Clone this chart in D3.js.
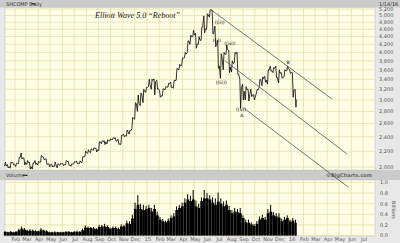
<!DOCTYPE html>
<html><head><meta charset="utf-8">
<script src="https://cdn.jsdelivr.net/npm/d3@7"></script>
<style>html,body{margin:0;padding:0;background:#e8e8e8;overflow:hidden}svg{display:block}</style>
</head><body><svg id="c" width="400" height="243"></svg>
<script>
// ---------- DATA ----------
const firstWeek = "2014-01-10", lastWeek = "2016-01-15", lastTradeDay = "2016-01-14";
const priceClose = [2013,2004,2054,2033,2044,2116,2113,2056,2057,2004,2047,2046,2058,2130,2098,2036,2027,2011,2026,2034,2039,2030,2070,2025,2036,2059,2047,2059,2127,2186,2194,2226,2240,2217,2327,2331,2329,2347,2363,2374,2341,2302,2420,2418,2478,2487,2683,2938,2938,3108,3158,
3235,3286,3376,3351,3210,3076,3204,3246,3311,3242,3373,3617,3691,3864,3958,4287,4394,4442,4205,4308,4657,4611,5023,5166,4478,4193,3687,3878,3958,4070,3664,3744,3965,3508,3232,3160,3200,3097,3092,3053,3183,3391,3412,3383,3590,3580,3630,3436,3525,3435,3578,3627,3539,3186,3007];
const priceHigh = [2060,2030,2060,2055,2045,2120,2177,2110,2080,2055,2050,2080,2070,2146,2125,2100,2040,2035,2060,2040,2045,2045,2080,2070,2040,2065,2075,2075,2130,2200,2220,2230,2248,2240,2330,2345,2345,2360,2370,2390,2390,2365,2423,2440,2500,2500,2700,2950,3090,3130,3200,
3240,3400,3400,3406,3380,3175,3210,3250,3320,3340,3380,3630,3720,3870,4000,4290,4440,4572,4490,4400,4660,4986,5051,5178,5160,4690,4300,3970,4000,4185,4050,3800,4000,4006,3400,3300,3250,3200,3200,3100,3200,3400,3450,3460,3600,3680,3650,3680,3600,3540,3600,3684,3600,3540,3200];
const priceLow = [2010,1990,1985,2025,2005,2040,2100,2025,2030,1975,1975,2030,2025,2060,2090,2030,2000,2000,2005,1990,2020,2015,2025,2020,2010,2040,2040,2040,2055,2130,2170,2180,2210,2190,2210,2300,2290,2300,2340,2360,2335,2290,2290,2400,2410,2440,2520,2670,2800,2900,2950,
3140,3250,3200,3095,3200,3050,3070,3190,3240,3230,3220,3380,3600,3700,3870,3990,4200,4400,4100,4200,4300,4500,4600,4950,4470,4140,3630,3420,3600,3950,3540,3550,3750,3500,2850,3000,3000,2980,3060,3000,3130,3240,3270,3340,3300,3570,3540,3430,3330,3420,3450,3580,3520,3050,2870];
const volAvg = [.07,.06,.07,.06,.07,.10,.13,.11,.09,.09,.09,.08,.08,.11,.09,.08,.06,.06,.06,.06,.06,.06,.07,.07,.06,.07,.07,.07,.10,.15,.14,.14,.13,.12,.16,.17,.17,.16,.13,.14,.14,.12,.17,.17,.23,.22,.32,.50,.58,.50,.48,
.50,.52,.45,.50,.38,.30,.27,.25,.28,.33,.36,.48,.52,.55,.62,.68,.65,.68,.55,.52,.65,.70,.70,.68,.62,.58,.64,.60,.55,.58,.48,.42,.45,.44,.42,.33,.25,.24,.21,.18,.22,.30,.33,.30,.42,.45,.38,.36,.34,.27,.30,.33,.26,.28,.24];
const volPeak = [.08,.07,.08,.07,.08,.13,.17,.14,.11,.12,.11,.10,.09,.14,.11,.10,.07,.07,.08,.07,.07,.07,.08,.08,.07,.08,.09,.08,.13,.19,.17,.16,.16,.14,.20,.20,.22,.19,.15,.17,.17,.15,.21,.20,.28,.27,.39,.62,.76,.60,.58,
.56,.58,.52,.58,.45,.35,.31,.28,.32,.38,.42,.55,.58,.62,.70,.78,.75,.86,.66,.60,.72,.86,.80,.76,.72,.70,.81,.70,.64,.66,.56,.48,.52,.50,.52,.38,.30,.30,.25,.22,.27,.36,.39,.35,.50,.58,.44,.42,.42,.32,.35,.38,.30,.33,.30];
const priceTicks = [2000,2200,2400,2600,2800,3000,3200,3400,3600,3800,4000,4200,4400,4600,4800,5000,5200];
const volTicks = [0,0.2,0.4,0.6,0.8,1.0];
const monthLabels = ["Feb","Mar","Apr","May","Jun","Jul","Aug","Sep","Oct","Nov","Dec","15","Feb","Mar","Apr","May","Jun","Jul","Aug","Sep","Oct","Nov","Dec","16","Feb","Mar","Apr","May","Jun","Jul"];
const trendLines = [
  [["2015-06-12",5178],["2016-04-13",3018]],
  [["2015-07-18",3800],["2016-05-21",2164]],
  [["2015-09-03",2857],["2016-05-24",1772]]
];
const waveLabels = [
  {d:"2015-06-27",v:4312,t:"((i))"},
  {d:"2015-07-04",v:4807,t:"((ii))"},
  {d:"2015-07-08",v:3344,t:"((iii))"},
  {d:"2015-07-30",v:4235,t:"((iv))"},
  {d:"2015-08-27",v:2830,t:"((v))"},
  {d:"2015-08-29",v:2740,t:"A"},
  {d:"2015-12-24",v:3773,t:"B"}
];

// ---------- LAYOUT ----------
const P = {l:5, r:375, top:7.5, bot:170, vTop:180, vBot:236};
const svg = d3.select("#c");
const parse = d3.timeParse("%Y-%m-%d");
const x = d3.scaleTime().domain([new Date(2014,0,7), new Date(2016,6,31)]).range([P.l, P.r]);
const y = d3.scaleLog().domain([2000,5200]).range([167,9]);
const vy = d3.scaleLinear().domain([0,1]).range([235.5,182.5]);
const weeks = d3.timeFriday.range(parse(firstWeek), d3.timeDay.offset(parse(lastWeek),1));
const dates = weeks.map(d => d > parse(lastTradeDay) ? parse(lastTradeDay) : d);

const HDR="#cbcbcb", PLOT="#fefee6", GRID="#e4e0a8", TXT="#555";

// headers
svg.append("rect").attr("x",0).attr("y",0).attr("width",400).attr("height",P.top).attr("fill",HDR);
svg.append("rect").attr("x",0).attr("y",P.bot).attr("width",400).attr("height",P.vTop-P.bot).attr("fill",HDR);
// panels
svg.append("rect").attr("x",P.l).attr("y",P.top).attr("width",P.r-P.l).attr("height",P.bot-P.top).attr("fill",PLOT).attr("stroke","#bdbdbd").attr("stroke-width",0.5);
svg.append("rect").attr("x",P.l).attr("y",P.vTop).attr("width",P.r-P.l).attr("height",P.vBot-P.vTop).attr("fill",PLOT).attr("stroke","#bdbdbd").attr("stroke-width",0.5);

const months = d3.timeMonth.range(new Date(2014,1,1), new Date(2016,7,1));
const g = svg.append("g").attr("stroke",GRID).attr("stroke-width",0.8);
months.forEach(m=>{
  g.append("line").attr("x1",x(m)).attr("x2",x(m)).attr("y1",P.top).attr("y2",P.bot);
  g.append("line").attr("x1",x(m)).attr("x2",x(m)).attr("y1",P.vTop).attr("y2",P.vBot);
});
priceTicks.forEach(v=>g.append("line").attr("x1",P.l).attr("x2",P.r).attr("y1",y(v)).attr("y2",y(v)));
volTicks.forEach(v=>g.append("line").attr("x1",P.l).attr("x2",P.r).attr("y1",vy(v)).attr("y2",vy(v)));

// axis labels
const ax = svg.append("g").attr("font-family","DejaVu Sans, sans-serif").attr("font-size",5).attr("fill",TXT);
priceTicks.forEach(v=>ax.append("text").attr("x",379).attr("y",y(v)+1.8).text(d3.format(",")(v)));
volTicks.forEach(v=>ax.append("text").attr("x",380).attr("y",vy(v)+1.8).text(d3.format(".1f")(v)));
months.forEach((m,i)=>ax.append("text").attr("x",x(m)+1).attr("y",241).attr("text-anchor","middle").text(monthLabels[i]));
ax.append("text").attr("transform","translate(391.5,210) rotate(90)").attr("text-anchor","middle").text("Billions");
ax.append("text").attr("x",379).attr("y",5.5).attr("fill","#333").text("1/14/16");
ax.append("text").attr("x",6).attr("y",5.5).attr("fill","#333").text("SHCOMP  Daily");
svg.append("rect").attr("x",31).attr("y",3.2).attr("width",4.5).attr("height",1.3).attr("fill","#333");
ax.append("text").attr("x",6).attr("y",177).attr("fill","#333").text("Volume");
svg.append("rect").attr("x",23).attr("y",174.7).attr("width",4.5).attr("height",1.3).attr("fill","#333");
ax.append("text").attr("x",372).attr("y",177).attr("text-anchor","end").attr("font-weight","bold").attr("fill","#666").text("©BigCharts.com");

// title
svg.append("text").attr("x",95).attr("y",18).attr("font-family","Liberation Serif, serif").attr("font-style","italic")
  .attr("font-size",9).attr("fill","#222").attr("textLength",85).attr("lengthAdjust","spacingAndGlyphs")
  .text("Elliott Wave 5.0 “Reboot”");

// volume
const vg = svg.append("g").attr("fill","#000");
dates.forEach((d,i)=>{
  const x0 = x(d3.timeDay.offset(weeks[i],-6)), x1 = Math.min(x(d3.timeDay.offset(d,1)), x(d3.timeDay.offset(weeks[i],1)));
  vg.append("rect").attr("x",x0).attr("width",Math.max(0.5,x1-x0)).attr("y",vy(volAvg[i])).attr("height",vy(0)-vy(volAvg[i]));
  vg.append("rect").attr("x",x(d3.timeDay.offset(weeks[i],-3))-0.5).attr("width",1).attr("y",vy(volPeak[i])).attr("height",vy(0)-vy(volPeak[i]));
});

// price zig-zag (weekly high/low/close)
const pts=[];
dates.forEach((d,i)=>{
  const prev = i ? priceClose[i-1] : priceClose[0];
  const up = priceClose[i] >= prev;
  const a = up ? priceLow[i] : priceHigh[i], b = up ? priceHigh[i] : priceLow[i];
  pts.push([x(d3.timeDay.offset(weeks[i],-4)), y(a)]);
  pts.push([x(d3.timeDay.offset(weeks[i],-2)), y(b)]);
  pts.push([x(d), y(priceClose[i])]);
});
svg.append("path").attr("d",d3.line()(pts)).attr("fill","none").attr("stroke","#111").attr("stroke-width",0.85).attr("stroke-linejoin","miter");

// trend lines
trendLines.forEach(l=>{
  svg.append("line").attr("x1",x(parse(l[0][0]))).attr("y1",y(l[0][1])).attr("x2",x(parse(l[1][0]))).attr("y2",y(l[1][1]))
    .attr("stroke","#555").attr("stroke-width",0.8);
});

// wave labels
const wl = svg.append("g").attr("font-family","DejaVu Sans, sans-serif").attr("font-size",4.6).attr("fill","#000").attr("stroke","none").attr("text-anchor","middle");
waveLabels.forEach(w=>wl.append("text").attr("x",x(parse(w.d))).attr("y",y(w.v)+1.6).text(w.t));
</script></body></html>
